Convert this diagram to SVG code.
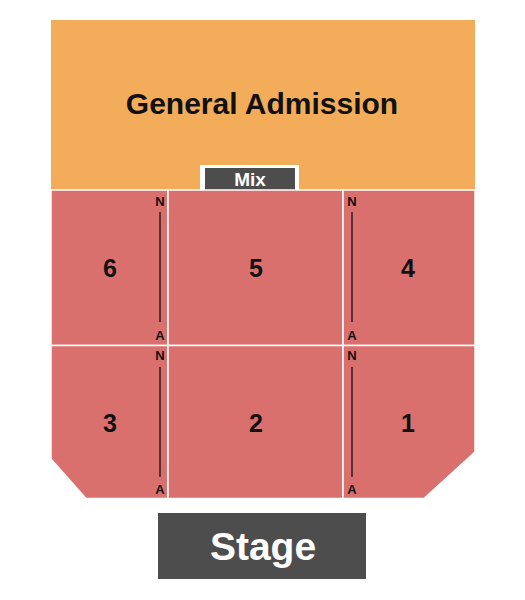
<svg xmlns="http://www.w3.org/2000/svg" width="525" height="600" viewBox="0 0 525 600">
<style>
.sec{fill:#d9706e;stroke:#ffffff;stroke-width:1.5}
.lbl{font-family:"Liberation Sans",Arial,sans-serif;font-weight:bold;fill:#111;text-anchor:middle}
.big{font-size:25px}
.row{font-size:13px}
.aisle{stroke:#111;stroke-width:1.3}
</style>
<rect width="525" height="600" fill="#ffffff"/>
<g id="ga">
<rect x="51" y="20" width="424" height="170" fill="#f3ad5a"/>
<text class="lbl" x="262" y="114" font-size="30">General Admission</text>
</g>
<g id="mix">
<rect x="200" y="165" width="99" height="25" fill="#ffffff"/>
<rect x="205" y="168" width="90" height="22" fill="#4d4d4d"/>
<text x="250" y="186" font-family="Liberation Sans,Arial,sans-serif" font-weight="bold" font-size="19" fill="#ffffff" text-anchor="middle">Mix</text>
</g>
<g id="sec6"><rect class="sec" x="51" y="190" width="117" height="155.5"/><text class="lbl big" x="110" y="277">6</text></g>
<g id="sec5"><rect class="sec" x="168" y="190" width="175" height="155.5"/><text class="lbl big" x="256" y="277">5</text></g>
<g id="sec4"><rect class="sec" x="343" y="190" width="132" height="155.5"/><text class="lbl big" x="408" y="277">4</text></g>
<g id="sec3"><path class="sec" d="M51 345.5 H168 V498.5 H86 L51 459 Z"/><text class="lbl big" x="110" y="432">3</text></g>
<g id="sec2"><rect class="sec" x="168" y="345.5" width="175" height="153"/><text class="lbl big" x="256" y="432">2</text></g>
<g id="sec1"><path class="sec" d="M343 345.5 H475 V452 L424 498.5 H343 Z"/><text class="lbl big" x="408" y="432">1</text></g>
<g id="aisles">
<line class="aisle" x1="160" y1="212" x2="160" y2="322"/>
<line class="aisle" x1="352" y1="212" x2="352" y2="322"/>
<line class="aisle" x1="160" y1="367" x2="160" y2="477"/>
<line class="aisle" x1="352" y1="367" x2="352" y2="477"/>
</g>
<g id="rowlabels">
<text class="lbl row" x="160" y="206">N</text>
<text class="lbl row" x="160" y="340">A</text>
<text class="lbl row" x="352" y="206">N</text>
<text class="lbl row" x="352" y="340">A</text>
<text class="lbl row" x="160" y="360">N</text>
<text class="lbl row" x="160" y="494">A</text>
<text class="lbl row" x="352" y="360">N</text>
<text class="lbl row" x="352" y="494">A</text>
</g>
<g id="stage">
<rect x="158" y="513" width="208" height="66" fill="#4d4d4d"/>
<text x="263" y="560" font-family="Liberation Sans,Arial,sans-serif" font-weight="bold" font-size="39" fill="#ffffff" text-anchor="middle">Stage</text>
</g>
</svg>
